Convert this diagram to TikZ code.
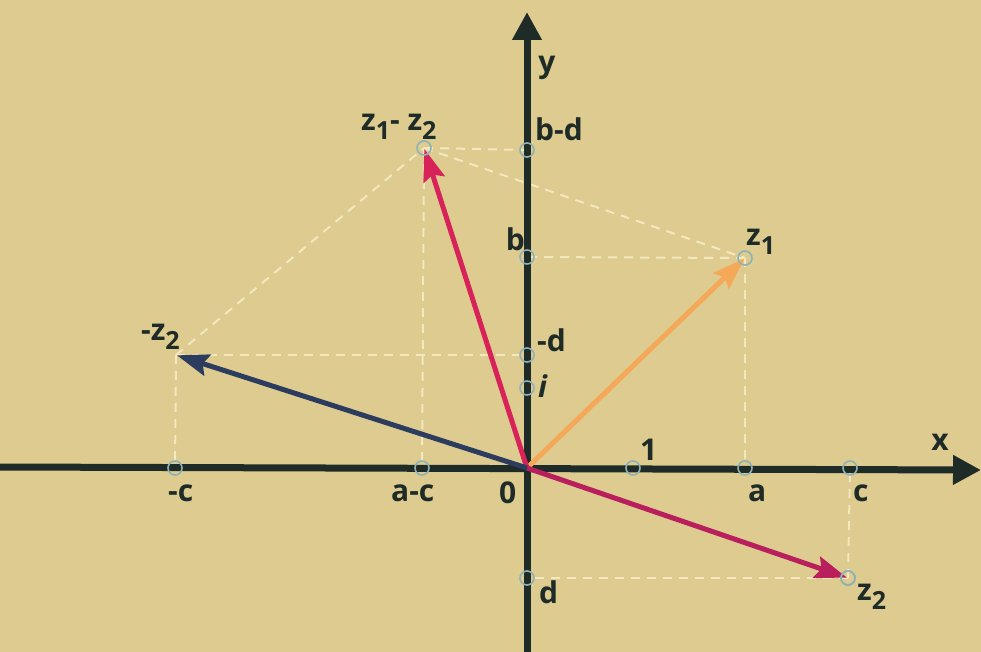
\documentclass[tikz,border=0pt]{standalone}
\usepackage{fontspec}
\setmainfont{Open Sans}
\usetikzlibrary{arrows.meta}
\definecolor{bg}{HTML}{DDCB90}
\definecolor{axiscol}{HTML}{1E2B26}
\definecolor{dashcol}{HTML}{F3E8BE}
\definecolor{orangevec}{HTML}{F5A858}
\definecolor{redvec}{HTML}{D8235A}
\definecolor{magvec}{HTML}{B81F5C}
\definecolor{navyvec}{HTML}{2C3C5E}
\definecolor{markcol}{HTML}{8FB2B6}
\newcommand\lsub[1]{\raisebox{-0.3em}{\fontsize{25}{25}\selectfont #1}}
\tikzset{
  axisline/.style={line width=7pt, draw=axiscol, -{Triangle[length=28pt,width=28pt]}},
  helper/.style={draw=dashcol, line width=2pt, dash pattern=on 9pt off 7pt},
  vec/.style={line width=5pt, -{Stealth[length=32pt,width=22pt,inset=5pt]}, shorten >=1pt},
  ptmark/.style={circle, draw=markcol, line width=1.6pt, minimum size=14pt, inner sep=0pt},
  lab/.style={text=axiscol, font=\bfseries\fontsize{30}{30}\selectfont, inner sep=0pt}
}
\begin{document}
\begin{tikzpicture}[x=1pt,y=-1pt]
\fill[bg] (0,0) rectangle (981,652);
\useasboundingbox (0,0) rectangle (981,652);
% points
\coordinate (O) at (527,468);
\coordinate (z1) at (745,258);
\coordinate (z2) at (848,578);
\coordinate (mz2) at (176,355);
\coordinate (zd) at (424,148);
\coordinate (tb) at (527,257);
\coordinate (tbd) at (527,150);
\coordinate (tmd) at (527,355);
\coordinate (ti) at (527,388);
\coordinate (td) at (527,578);
\coordinate (t1) at (633,468);
\coordinate (ta) at (745,468);
\coordinate (tc) at (850,468);
\coordinate (tac) at (422,468);
\coordinate (tmc) at (175,468);
\coordinate (xl) at (0,467);
\coordinate (xr) at (981,470);
\coordinate (yb) at (527,652);
\coordinate (yt) at (527,12);
% helper dashed lines
\draw[helper] (z1) -- (tb);
\draw[helper] (z1) -- (ta);
\draw[helper] (z2) -- (td);
\draw[helper] (z2) -- (tc);
\draw[helper] (mz2) -- (tmd);
\draw[helper] (mz2) -- (tmc);
\draw[helper] (zd) -- (tbd);
\draw[helper] (zd) -- (tac);
\draw[helper] (mz2) -- (zd);
\draw[helper] (zd) -- (z1);
% axes
\draw[axisline] (xl) -- (xr);
\draw[axisline] (yb) -- (yt);
% vectors
\draw[vec, draw=orangevec, fill=orangevec] (O) -- (z1);
\draw[vec, draw=redvec, fill=redvec] (O) -- (zd);
\draw[vec, draw=magvec, fill=magvec] (O) -- (z2);
\draw[vec, draw=navyvec, fill=navyvec] (O) -- (mz2);
% markers
\foreach \p in {z1,z2,mz2,zd,tb,tbd,tmd,ti,td,t1,ta,tc,tac,tmc}
  \node[ptmark] (m\p) at (\p) {};
% labels
\node[lab] (ly) at (547,68) {y};
\node[lab] (lx) at (940,442) {x};
\node[lab, anchor=base west] (lzd) at (361,131) {z\lsub{1}- z\lsub{2}};
\node[lab, anchor=base west] (lbd) at (535,141) {b-d};
\node[lab, anchor=base east] (lb) at (525,250) {b};
\node[lab, anchor=base west] (lz1) at (746,245) {z\lsub{1}};
\node[lab, anchor=base west] (lmz2) at (141,340) {-z\lsub{2}};
\node[lab, anchor=base west] (lmd) at (537,351) {-d};
\node[lab, anchor=base west, font=\bfseries\itshape\fontsize{30}{30}\selectfont] (li) at (538,397) {i};
\node[lab, anchor=base west] (l1) at (640,460) {1};
\node[lab, anchor=base west] (lmc) at (168,501) {-c};
\node[lab, anchor=base west] (lac) at (391,501) {a-c};
\node[lab, anchor=base west] (l0) at (499,503) {0};
\node[lab, anchor=base west] (la) at (748,501) {a};
\node[lab, anchor=base west] (lc) at (853,501) {c};
\node[lab, anchor=base west] (ld) at (539,603) {d};
\node[lab, anchor=base west] (lz2) at (857,600) {z\lsub{2}};
\end{tikzpicture}
\end{document}
